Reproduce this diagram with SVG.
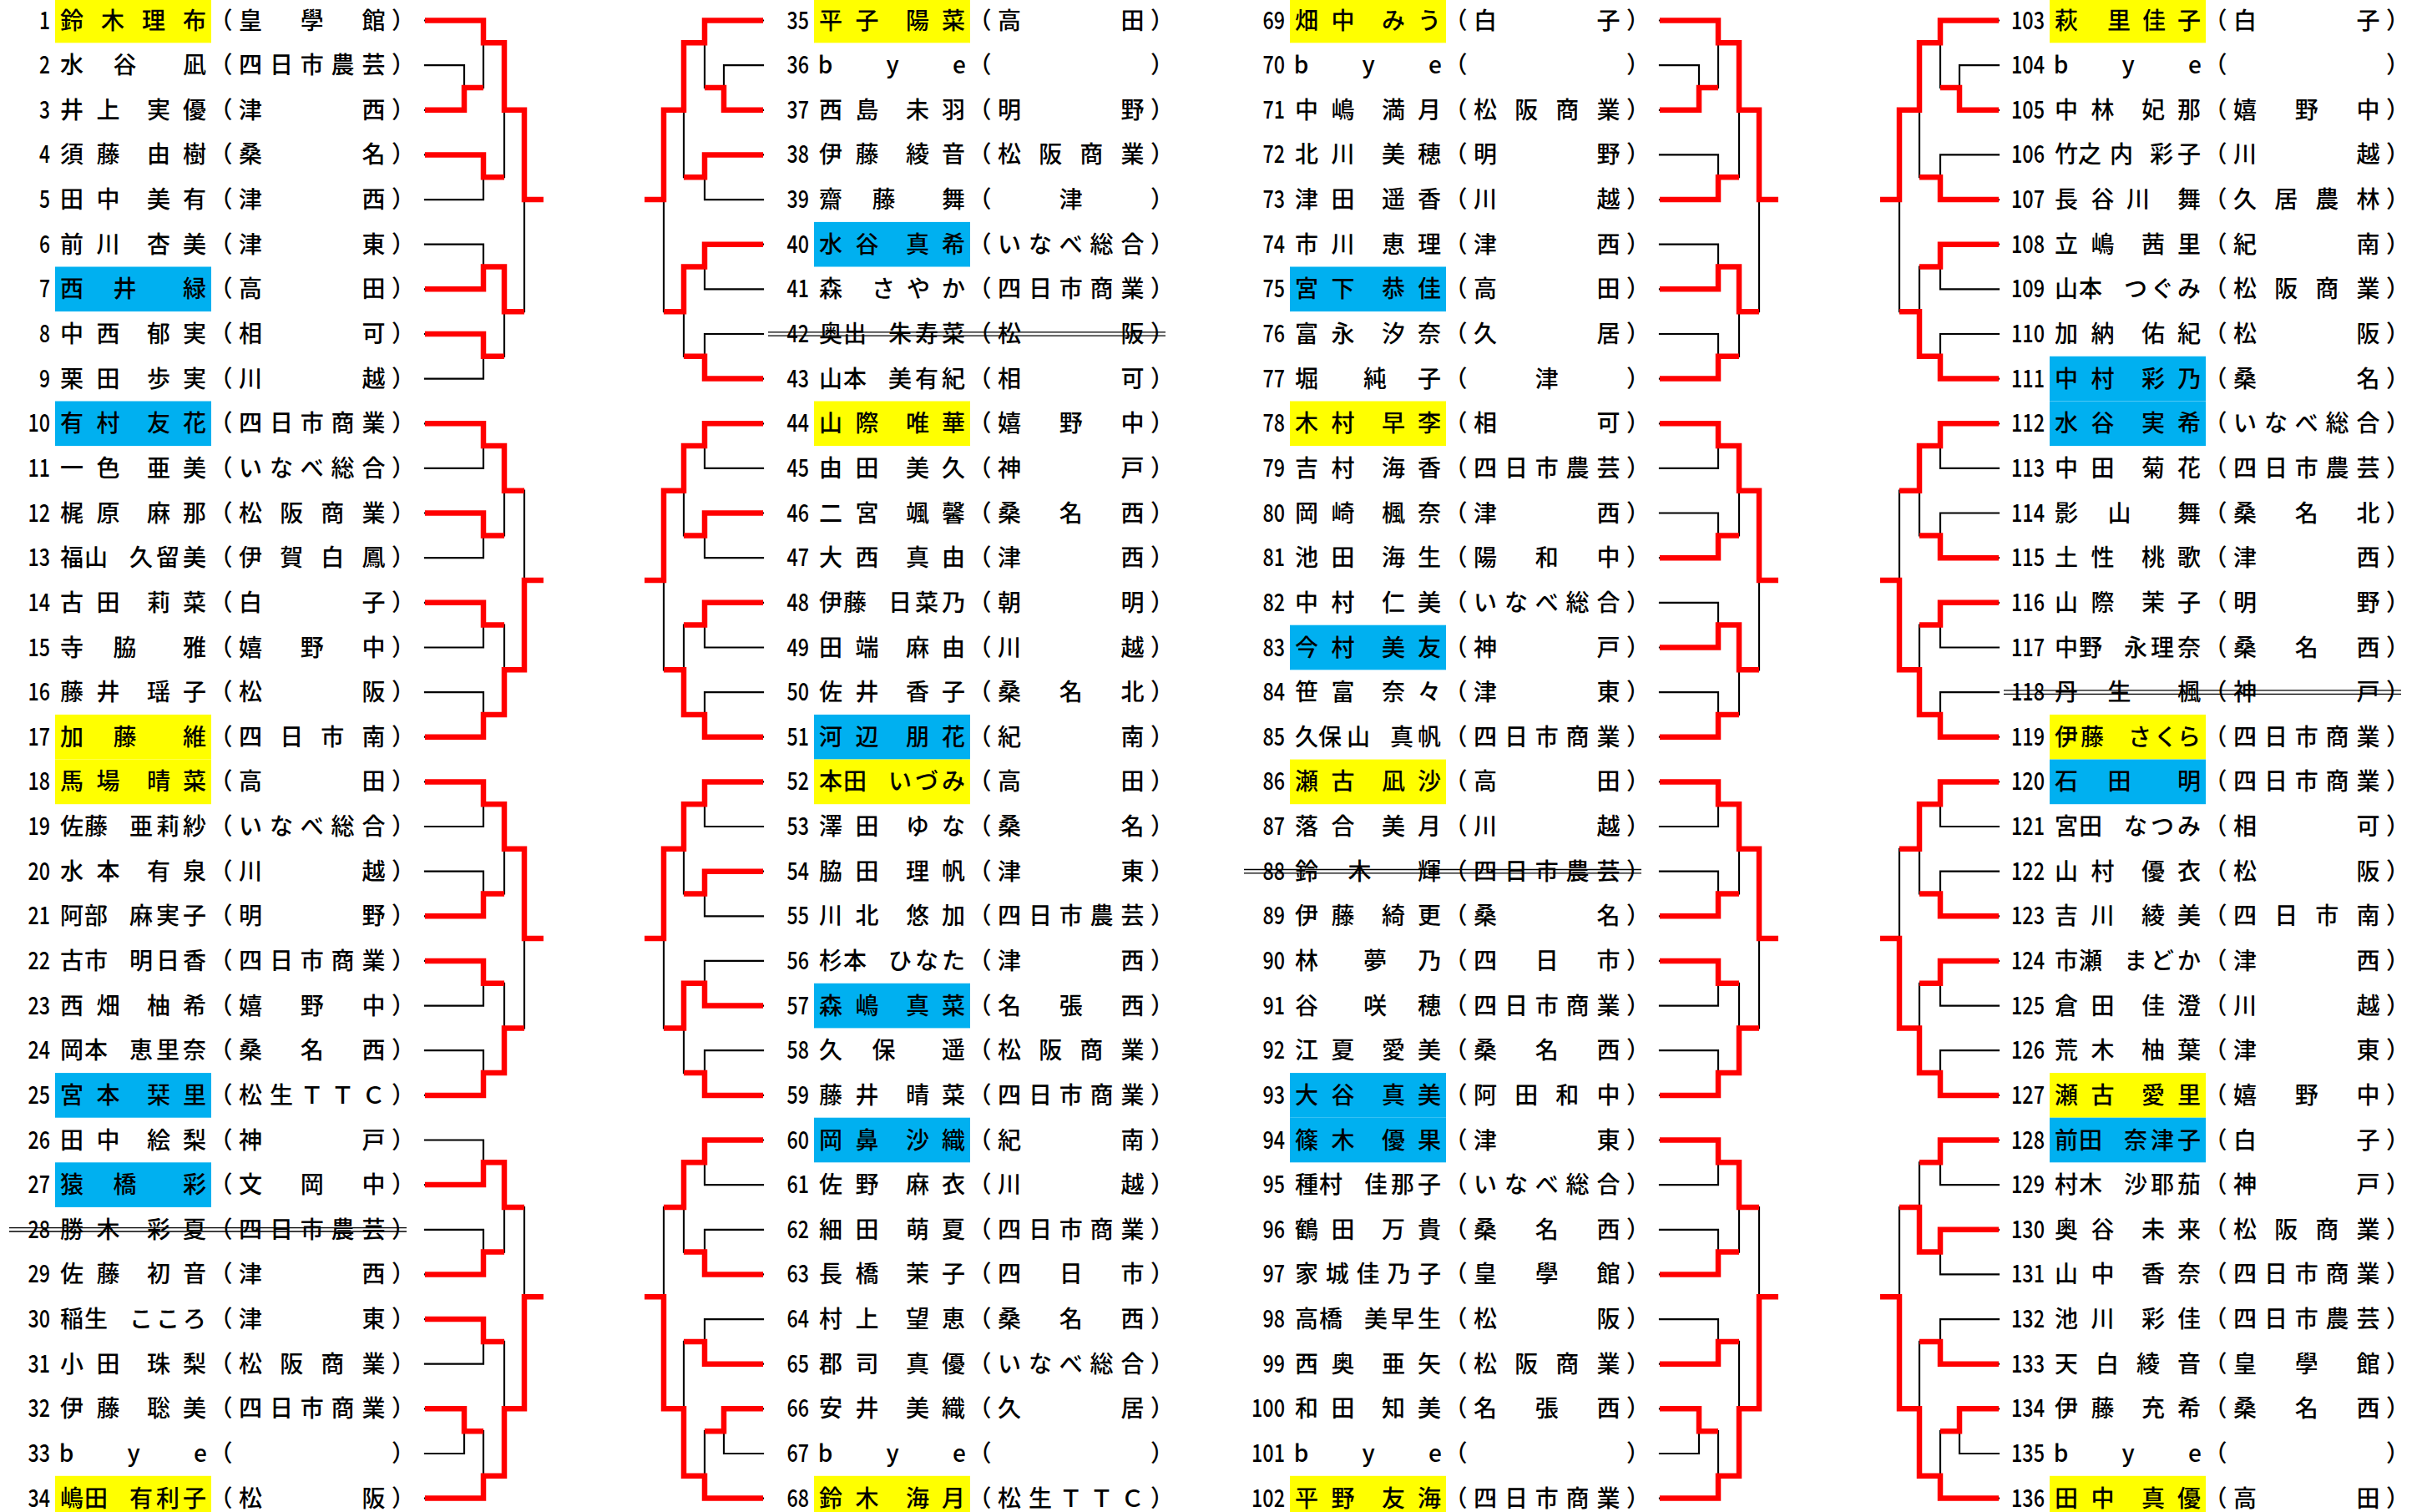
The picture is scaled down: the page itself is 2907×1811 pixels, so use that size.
<svg xmlns="http://www.w3.org/2000/svg" width="2907" height="1811" viewBox="0 0 2907 1811" font-family="'Noto Sans CJK JP','Noto Sans CJK SC',sans-serif">
<style>
.num{font-size:29px;font-weight:500;text-anchor:end;fill:#000}
.nm,.af{font-size:28px;font-weight:500;text-anchor:middle;fill:#000}
.hy{fill:#ffff00}
.hb{fill:#00b0f0}
.st{stroke:#000;stroke-width:1.3;fill:none}
.k{fill:none;stroke:#000;stroke-width:2.2;stroke-linecap:square}
.r{fill:none;stroke:#ff0000;stroke-width:6.5;stroke-linejoin:miter}
</style>
<defs>
<path id="sk" class="k" d="M509 24.5H579M509 78.1H556M509 131.8H556M509 185.4H579M509 239.1H579M509 292.7H579M509 346.3H579M509 400H579M509 453.6H579M509 507.3H579M509 560.9H579M509 614.5H579M509 668.2H579M509 721.8H579M509 775.5H579M509 829.1H579M509 882.7H579M509 936.4H579M509 990H579M509 1043.7H579M509 1097.3H579M509 1150.9H579M509 1204.6H579M509 1258.2H579M509 1311.9H579M509 1365.5H579M509 1419.1H579M509 1472.8H579M509 1526.4H579M509 1580.1H579M509 1633.7H579M509 1687.3H556M509 1741H556M509 1794.6H579M556 78.1V131.8M556 1687.3V1741M579 24.5V105M579 185.4V239.1M579 292.7V346.3M579 400V453.6M579 507.3V560.9M579 614.5V668.2M579 721.8V775.5M579 829.1V882.7M579 936.4V990M579 1043.7V1097.3M579 1150.9V1204.6M579 1258.2V1311.9M579 1365.5V1419.1M579 1472.8V1526.4M579 1580.1V1633.7M579 1714.2V1794.6M604 51.3V212.2M604 319.5V426.8M604 534.1V641.4M604 748.6V855.9M604 963.2V1070.5M604 1177.8V1285M604 1392.3V1499.6M604 1606.9V1767.8M628 131.8V373.2M628 587.7V802.3M628 1016.8V1231.4M628 1446V1687.3"/>
</defs>
<rect width="2907" height="1811" fill="#fff"/>
<g id="connectors">
<g id="c1"><use href="#sk"/><path class="r" d="M509 24.5H579V51.3H604V131.8H628V239.1H651M509 131.8H556V105H579M509 185.4H579V212.2H604M509 346.3H579V319.5H604V373.2H628M509 400H579V426.8H604M509 507.3H579V534.1H604V587.7H628M509 614.5H579V641.4H604M509 721.8H579V748.6H604M509 882.7H579V855.9H604V802.3H628V695H651M509 936.4H579V963.2H604V1016.8H628V1124.1H651M509 1097.3H579V1070.5H604M509 1150.9H579V1177.8H604M509 1311.9H579V1285H604V1231.4H628M509 1419.1H579V1392.3H604V1446H628M509 1526.4H579V1499.6H604M509 1580.1H579V1606.9H604M509 1687.3H556V1714.2H579M509 1794.6H579V1767.8H604V1687.3H628V1553.2H651"/></g>
<g id="c2" transform="matrix(-1 0 0 1 1423 0)"><use href="#sk"/><path class="r" d="M509 24.5H579V51.3H604V131.8H628V239.1H651M509 131.8H556V105H579M509 185.4H579V212.2H604M509 292.7H579V319.5H604V373.2H628M509 453.6H579V426.8H604M509 507.3H579V534.1H604V587.7H628V695H651M509 614.5H579V641.4H604M509 721.8H579V748.6H604M509 882.7H579V855.9H604V802.3H628M509 936.4H579V963.2H604V1016.8H628V1124.1H651M509 1043.7H579V1070.5H604M509 1204.6H579V1177.8H604V1231.4H628M509 1311.9H579V1285H604M509 1365.5H579V1392.3H604V1446H628M509 1526.4H579V1499.6H604M509 1633.7H579V1606.9H604M509 1687.3H556V1714.2H579M509 1794.6H579V1767.8H604V1687.3H628V1553.2H651"/></g>
<g id="c3" transform="translate(1479 0)"><use href="#sk"/><path class="r" d="M509 24.5H579V51.3H604V131.8H628V239.1H651M509 131.8H556V105H579M509 239.1H579V212.2H604M509 346.3H579V319.5H604V373.2H628M509 453.6H579V426.8H604M509 507.3H579V534.1H604V587.7H628V695H651M509 668.2H579V641.4H604M509 775.5H579V748.6H604V802.3H628M509 882.7H579V855.9H604M509 936.4H579V963.2H604V1016.8H628V1124.1H651M509 1097.3H579V1070.5H604M509 1150.9H579V1177.8H604M509 1311.9H579V1285H604V1231.4H628M509 1365.5H579V1392.3H604V1446H628M509 1526.4H579V1499.6H604M509 1633.7H579V1606.9H604M509 1687.3H556V1714.2H579M509 1794.6H579V1767.8H604V1687.3H628V1553.2H651"/></g>
<g id="c4" transform="matrix(-1 0 0 1 2903 0)"><use href="#sk"/><path class="r" d="M509 24.5H579V51.3H604V131.8H628V239.1H651M509 131.8H556V105H579M509 239.1H579V212.2H604M509 292.7H579V319.5H604M509 453.6H579V426.8H604V373.2H628M509 507.3H579V534.1H604V587.7H628M509 668.2H579V641.4H604M509 721.8H579V748.6H604M509 882.7H579V855.9H604V802.3H628V695H651M509 936.4H579V963.2H604V1016.8H628M509 1097.3H579V1070.5H604M509 1150.9H579V1177.8H604M509 1311.9H579V1285H604V1231.4H628V1124.1H651M509 1365.5H579V1392.3H604M509 1472.8H579V1499.6H604V1446H628M509 1633.7H579V1606.9H604M509 1687.3H556V1714.2H579M509 1794.6H579V1767.8H604V1687.3H628V1553.2H651"/></g>
</g>
<g id="col1">
<g id="p1" transform="translate(0 24.5)"><rect class="hy" x="66" y="-26.8" width="187" height="53.6"/><text class="num" x="60" y="10" textLength="13" lengthAdjust="spacingAndGlyphs">1</text><text class="nm" x="86 135 184 233" y="10">鈴木理布</text><text class="af" x="264.5 300 373.8 447.5 483" y="10">（皇學館）</text></g>
<g id="p2" transform="translate(0 78.1)"><text class="num" x="60" y="10" textLength="13" lengthAdjust="spacingAndGlyphs">2</text><text class="nm" x="86 149.5 233" y="10">水谷凪</text><text class="af" x="264.5 300 336.9 373.8 410.6 447.5 483" y="10">（四日市農芸）</text></g>
<g id="p3" transform="translate(0 131.8)"><text class="num" x="60" y="10" textLength="13" lengthAdjust="spacingAndGlyphs">3</text><text class="nm" x="86 129.5 190 233" y="10">井上実優</text><text class="af" x="264.5 300 447.5 483" y="10">（津西）</text></g>
<g id="p4" transform="translate(0 185.4)"><text class="num" x="60" y="10" textLength="13" lengthAdjust="spacingAndGlyphs">4</text><text class="nm" x="86 129.5 190 233" y="10">須藤由樹</text><text class="af" x="264.5 300 447.5 483" y="10">（桑名）</text></g>
<g id="p5" transform="translate(0 239.1)"><text class="num" x="60" y="10" textLength="13" lengthAdjust="spacingAndGlyphs">5</text><text class="nm" x="86 129.5 190 233" y="10">田中美有</text><text class="af" x="264.5 300 447.5 483" y="10">（津西）</text></g>
<g id="p6" transform="translate(0 292.7)"><text class="num" x="60" y="10" textLength="13" lengthAdjust="spacingAndGlyphs">6</text><text class="nm" x="86 129.5 190 233" y="10">前川杏美</text><text class="af" x="264.5 300 447.5 483" y="10">（津東）</text></g>
<g id="p7" transform="translate(0 346.3)"><rect class="hb" x="66" y="-26.8" width="187" height="53.6"/><text class="num" x="60" y="10" textLength="13" lengthAdjust="spacingAndGlyphs">7</text><text class="nm" x="86 149.5 233" y="10">西井緑</text><text class="af" x="264.5 300 447.5 483" y="10">（高田）</text></g>
<g id="p8" transform="translate(0 400)"><text class="num" x="60" y="10" textLength="13" lengthAdjust="spacingAndGlyphs">8</text><text class="nm" x="86 129.5 190 233" y="10">中西郁実</text><text class="af" x="264.5 300 447.5 483" y="10">（相可）</text></g>
<g id="p9" transform="translate(0 453.6)"><text class="num" x="60" y="10" textLength="13" lengthAdjust="spacingAndGlyphs">9</text><text class="nm" x="86 129.5 190 233" y="10">栗田歩実</text><text class="af" x="264.5 300 447.5 483" y="10">（川越）</text></g>
<g id="p10" transform="translate(0 507.3)"><rect class="hb" x="66" y="-26.8" width="187" height="53.6"/><text class="num" x="60" y="10" textLength="26.5" lengthAdjust="spacingAndGlyphs">10</text><text class="nm" x="86 129.5 190 233" y="10">有村友花</text><text class="af" x="264.5 300 336.9 373.8 410.6 447.5 483" y="10">（四日市商業）</text></g>
<g id="p11" transform="translate(0 560.9)"><text class="num" x="60" y="10" textLength="26.5" lengthAdjust="spacingAndGlyphs">11</text><text class="nm" x="86 129.5 190 233" y="10">一色亜美</text><text class="af" x="264.5 300 336.9 373.8 410.6 447.5 483" y="10">（いなべ総合）</text></g>
<g id="p12" transform="translate(0 614.5)"><text class="num" x="60" y="10" textLength="26.5" lengthAdjust="spacingAndGlyphs">12</text><text class="nm" x="86 129.5 190 233" y="10">梶原麻那</text><text class="af" x="264.5 300 349.2 398.3 447.5 483" y="10">（松阪商業）</text></g>
<g id="p13" transform="translate(0 668.2)"><text class="num" x="60" y="10" textLength="26.5" lengthAdjust="spacingAndGlyphs">13</text><text class="nm" x="86 115 169 201 233" y="10">福山久留美</text><text class="af" x="264.5 300 349.2 398.3 447.5 483" y="10">（伊賀白鳳）</text></g>
<g id="p14" transform="translate(0 721.8)"><text class="num" x="60" y="10" textLength="26.5" lengthAdjust="spacingAndGlyphs">14</text><text class="nm" x="86 129.5 190 233" y="10">古田莉菜</text><text class="af" x="264.5 300 447.5 483" y="10">（白子）</text></g>
<g id="p15" transform="translate(0 775.5)"><text class="num" x="60" y="10" textLength="26.5" lengthAdjust="spacingAndGlyphs">15</text><text class="nm" x="86 149.5 233" y="10">寺脇雅</text><text class="af" x="264.5 300 373.8 447.5 483" y="10">（嬉野中）</text></g>
<g id="p16" transform="translate(0 829.1)"><text class="num" x="60" y="10" textLength="26.5" lengthAdjust="spacingAndGlyphs">16</text><text class="nm" x="86 129.5 190 233" y="10">藤井瑶子</text><text class="af" x="264.5 300 447.5 483" y="10">（松阪）</text></g>
<g id="p17" transform="translate(0 882.7)"><rect class="hy" x="66" y="-26.8" width="187" height="53.6"/><text class="num" x="60" y="10" textLength="26.5" lengthAdjust="spacingAndGlyphs">17</text><text class="nm" x="86 149.5 233" y="10">加藤維</text><text class="af" x="264.5 300 349.2 398.3 447.5 483" y="10">（四日市南）</text></g>
<g id="p18" transform="translate(0 936.4)"><rect class="hy" x="66" y="-26.8" width="187" height="53.6"/><text class="num" x="60" y="10" textLength="26.5" lengthAdjust="spacingAndGlyphs">18</text><text class="nm" x="86 129.5 190 233" y="10">馬場晴菜</text><text class="af" x="264.5 300 447.5 483" y="10">（高田）</text></g>
<g id="p19" transform="translate(0 990)"><text class="num" x="60" y="10" textLength="26.5" lengthAdjust="spacingAndGlyphs">19</text><text class="nm" x="86 115 169 201 233" y="10">佐藤亜莉紗</text><text class="af" x="264.5 300 336.9 373.8 410.6 447.5 483" y="10">（いなべ総合）</text></g>
<g id="p20" transform="translate(0 1043.7)"><text class="num" x="60" y="10" textLength="26.5" lengthAdjust="spacingAndGlyphs">20</text><text class="nm" x="86 129.5 190 233" y="10">水本有泉</text><text class="af" x="264.5 300 447.5 483" y="10">（川越）</text></g>
<g id="p21" transform="translate(0 1097.3)"><text class="num" x="60" y="10" textLength="26.5" lengthAdjust="spacingAndGlyphs">21</text><text class="nm" x="86 115 169 201 233" y="10">阿部麻実子</text><text class="af" x="264.5 300 447.5 483" y="10">（明野）</text></g>
<g id="p22" transform="translate(0 1150.9)"><text class="num" x="60" y="10" textLength="26.5" lengthAdjust="spacingAndGlyphs">22</text><text class="nm" x="86 115 169 201 233" y="10">古市明日香</text><text class="af" x="264.5 300 336.9 373.8 410.6 447.5 483" y="10">（四日市商業）</text></g>
<g id="p23" transform="translate(0 1204.6)"><text class="num" x="60" y="10" textLength="26.5" lengthAdjust="spacingAndGlyphs">23</text><text class="nm" x="86 129.5 190 233" y="10">西畑柚希</text><text class="af" x="264.5 300 373.8 447.5 483" y="10">（嬉野中）</text></g>
<g id="p24" transform="translate(0 1258.2)"><text class="num" x="60" y="10" textLength="26.5" lengthAdjust="spacingAndGlyphs">24</text><text class="nm" x="86 115 169 201 233" y="10">岡本恵里奈</text><text class="af" x="264.5 300 373.8 447.5 483" y="10">（桑名西）</text></g>
<g id="p25" transform="translate(0 1311.9)"><rect class="hb" x="66" y="-26.8" width="187" height="53.6"/><text class="num" x="60" y="10" textLength="26.5" lengthAdjust="spacingAndGlyphs">25</text><text class="nm" x="86 129.5 190 233" y="10">宮本栞里</text><text class="af" x="264.5 300 336.9 373.8 410.6 447.5 483" y="10">（松生ＴＴＣ）</text></g>
<g id="p26" transform="translate(0 1365.5)"><text class="num" x="60" y="10" textLength="26.5" lengthAdjust="spacingAndGlyphs">26</text><text class="nm" x="86 129.5 190 233" y="10">田中絵梨</text><text class="af" x="264.5 300 447.5 483" y="10">（神戸）</text></g>
<g id="p27" transform="translate(0 1419.1)"><rect class="hb" x="66" y="-26.8" width="187" height="53.6"/><text class="num" x="60" y="10" textLength="26.5" lengthAdjust="spacingAndGlyphs">27</text><text class="nm" x="86 149.5 233" y="10">猿橋彩</text><text class="af" x="264.5 300 373.8 447.5 483" y="10">（文岡中）</text></g>
<g id="p28" transform="translate(0 1472.8)"><text class="num" x="60" y="10" textLength="26.5" lengthAdjust="spacingAndGlyphs">28</text><text class="nm" x="86 129.5 190 233" y="10">勝木彩夏</text><text class="af" x="264.5 300 336.9 373.8 410.6 447.5 483" y="10">（四日市農芸）</text><path class="st" d="M11 -2.2H487M11 2.2H487"/></g>
<g id="p29" transform="translate(0 1526.4)"><text class="num" x="60" y="10" textLength="26.5" lengthAdjust="spacingAndGlyphs">29</text><text class="nm" x="86 129.5 190 233" y="10">佐藤初音</text><text class="af" x="264.5 300 447.5 483" y="10">（津西）</text></g>
<g id="p30" transform="translate(0 1580.1)"><text class="num" x="60" y="10" textLength="26.5" lengthAdjust="spacingAndGlyphs">30</text><text class="nm" x="86 115 169 201 233" y="10">稲生こころ</text><text class="af" x="264.5 300 447.5 483" y="10">（津東）</text></g>
<g id="p31" transform="translate(0 1633.7)"><text class="num" x="60" y="10" textLength="26.5" lengthAdjust="spacingAndGlyphs">31</text><text class="nm" x="86 129.5 190 233" y="10">小田珠梨</text><text class="af" x="264.5 300 349.2 398.3 447.5 483" y="10">（松阪商業）</text></g>
<g id="p32" transform="translate(0 1687.3)"><text class="num" x="60" y="10" textLength="26.5" lengthAdjust="spacingAndGlyphs">32</text><text class="nm" x="86 129.5 190 233" y="10">伊藤聡美</text><text class="af" x="264.5 300 336.9 373.8 410.6 447.5 483" y="10">（四日市商業）</text></g>
<g id="p33" transform="translate(0 1741)"><text class="num" x="60" y="10" textLength="26.5" lengthAdjust="spacingAndGlyphs">33</text><text class="nm" x="79.5 160 240" y="10">bye</text><text class="af" x="264.5 483" y="10">（）</text></g>
<g id="p34" transform="translate(0 1794.6)"><rect class="hy" x="66" y="-26.8" width="187" height="53.6"/><text class="num" x="60" y="10" textLength="26.5" lengthAdjust="spacingAndGlyphs">34</text><text class="nm" x="86 115 169 201 233" y="10">嶋田有利子</text><text class="af" x="264.5 300 447.5 483" y="10">（松阪）</text></g>
</g>
<g id="col2" transform="translate(909 0)">
<g id="p35" transform="translate(0 24.5)"><rect class="hy" x="66" y="-26.8" width="187" height="53.6"/><text class="num" x="60" y="10" textLength="26.5" lengthAdjust="spacingAndGlyphs">35</text><text class="nm" x="86 129.5 190 233" y="10">平子陽菜</text><text class="af" x="264.5 300 447.5 483" y="10">（高田）</text></g>
<g id="p36" transform="translate(0 78.1)"><text class="num" x="60" y="10" textLength="26.5" lengthAdjust="spacingAndGlyphs">36</text><text class="nm" x="79.5 160 240" y="10">bye</text><text class="af" x="264.5 483" y="10">（）</text></g>
<g id="p37" transform="translate(0 131.8)"><text class="num" x="60" y="10" textLength="26.5" lengthAdjust="spacingAndGlyphs">37</text><text class="nm" x="86 129.5 190 233" y="10">西島未羽</text><text class="af" x="264.5 300 447.5 483" y="10">（明野）</text></g>
<g id="p38" transform="translate(0 185.4)"><text class="num" x="60" y="10" textLength="26.5" lengthAdjust="spacingAndGlyphs">38</text><text class="nm" x="86 129.5 190 233" y="10">伊藤綾音</text><text class="af" x="264.5 300 349.2 398.3 447.5 483" y="10">（松阪商業）</text></g>
<g id="p39" transform="translate(0 239.1)"><text class="num" x="60" y="10" textLength="26.5" lengthAdjust="spacingAndGlyphs">39</text><text class="nm" x="86 149.5 233" y="10">齋藤舞</text><text class="af" x="264.5 373.8 483" y="10">（津）</text></g>
<g id="p40" transform="translate(0 292.7)"><rect class="hb" x="66" y="-26.8" width="187" height="53.6"/><text class="num" x="60" y="10" textLength="26.5" lengthAdjust="spacingAndGlyphs">40</text><text class="nm" x="86 129.5 190 233" y="10">水谷真希</text><text class="af" x="264.5 300 336.9 373.8 410.6 447.5 483" y="10">（いなべ総合）</text></g>
<g id="p41" transform="translate(0 346.3)"><text class="num" x="60" y="10" textLength="26.5" lengthAdjust="spacingAndGlyphs">41</text><text class="nm" x="86 149 191 233" y="10">森さやか</text><text class="af" x="264.5 300 336.9 373.8 410.6 447.5 483" y="10">（四日市商業）</text></g>
<g id="p42" transform="translate(0 400)"><text class="num" x="60" y="10" textLength="26.5" lengthAdjust="spacingAndGlyphs">42</text><text class="nm" x="86 115 169 201 233" y="10">奥出朱寿菜</text><text class="af" x="264.5 300 447.5 483" y="10">（松阪）</text><path class="st" d="M11 -2.2H487M11 2.2H487"/></g>
<g id="p43" transform="translate(0 453.6)"><text class="num" x="60" y="10" textLength="26.5" lengthAdjust="spacingAndGlyphs">43</text><text class="nm" x="86 115 169 201 233" y="10">山本美有紀</text><text class="af" x="264.5 300 447.5 483" y="10">（相可）</text></g>
<g id="p44" transform="translate(0 507.3)"><rect class="hy" x="66" y="-26.8" width="187" height="53.6"/><text class="num" x="60" y="10" textLength="26.5" lengthAdjust="spacingAndGlyphs">44</text><text class="nm" x="86 129.5 190 233" y="10">山際唯華</text><text class="af" x="264.5 300 373.8 447.5 483" y="10">（嬉野中）</text></g>
<g id="p45" transform="translate(0 560.9)"><text class="num" x="60" y="10" textLength="26.5" lengthAdjust="spacingAndGlyphs">45</text><text class="nm" x="86 129.5 190 233" y="10">由田美久</text><text class="af" x="264.5 300 447.5 483" y="10">（神戸）</text></g>
<g id="p46" transform="translate(0 614.5)"><text class="num" x="60" y="10" textLength="26.5" lengthAdjust="spacingAndGlyphs">46</text><text class="nm" x="86 129.5 190 233" y="10">二宮颯馨</text><text class="af" x="264.5 300 373.8 447.5 483" y="10">（桑名西）</text></g>
<g id="p47" transform="translate(0 668.2)"><text class="num" x="60" y="10" textLength="26.5" lengthAdjust="spacingAndGlyphs">47</text><text class="nm" x="86 129.5 190 233" y="10">大西真由</text><text class="af" x="264.5 300 447.5 483" y="10">（津西）</text></g>
<g id="p48" transform="translate(0 721.8)"><text class="num" x="60" y="10" textLength="26.5" lengthAdjust="spacingAndGlyphs">48</text><text class="nm" x="86 115 169 201 233" y="10">伊藤日菜乃</text><text class="af" x="264.5 300 447.5 483" y="10">（朝明）</text></g>
<g id="p49" transform="translate(0 775.5)"><text class="num" x="60" y="10" textLength="26.5" lengthAdjust="spacingAndGlyphs">49</text><text class="nm" x="86 129.5 190 233" y="10">田端麻由</text><text class="af" x="264.5 300 447.5 483" y="10">（川越）</text></g>
<g id="p50" transform="translate(0 829.1)"><text class="num" x="60" y="10" textLength="26.5" lengthAdjust="spacingAndGlyphs">50</text><text class="nm" x="86 129.5 190 233" y="10">佐井香子</text><text class="af" x="264.5 300 373.8 447.5 483" y="10">（桑名北）</text></g>
<g id="p51" transform="translate(0 882.7)"><rect class="hb" x="66" y="-26.8" width="187" height="53.6"/><text class="num" x="60" y="10" textLength="26.5" lengthAdjust="spacingAndGlyphs">51</text><text class="nm" x="86 129.5 190 233" y="10">河辺朋花</text><text class="af" x="264.5 300 447.5 483" y="10">（紀南）</text></g>
<g id="p52" transform="translate(0 936.4)"><rect class="hy" x="66" y="-26.8" width="187" height="53.6"/><text class="num" x="60" y="10" textLength="26.5" lengthAdjust="spacingAndGlyphs">52</text><text class="nm" x="86 115 169 201 233" y="10">本田いづみ</text><text class="af" x="264.5 300 447.5 483" y="10">（高田）</text></g>
<g id="p53" transform="translate(0 990)"><text class="num" x="60" y="10" textLength="26.5" lengthAdjust="spacingAndGlyphs">53</text><text class="nm" x="86 129.5 190 233" y="10">澤田ゆな</text><text class="af" x="264.5 300 447.5 483" y="10">（桑名）</text></g>
<g id="p54" transform="translate(0 1043.7)"><text class="num" x="60" y="10" textLength="26.5" lengthAdjust="spacingAndGlyphs">54</text><text class="nm" x="86 129.5 190 233" y="10">脇田理帆</text><text class="af" x="264.5 300 447.5 483" y="10">（津東）</text></g>
<g id="p55" transform="translate(0 1097.3)"><text class="num" x="60" y="10" textLength="26.5" lengthAdjust="spacingAndGlyphs">55</text><text class="nm" x="86 129.5 190 233" y="10">川北悠加</text><text class="af" x="264.5 300 336.9 373.8 410.6 447.5 483" y="10">（四日市農芸）</text></g>
<g id="p56" transform="translate(0 1150.9)"><text class="num" x="60" y="10" textLength="26.5" lengthAdjust="spacingAndGlyphs">56</text><text class="nm" x="86 115 169 201 233" y="10">杉本ひなた</text><text class="af" x="264.5 300 447.5 483" y="10">（津西）</text></g>
<g id="p57" transform="translate(0 1204.6)"><rect class="hb" x="66" y="-26.8" width="187" height="53.6"/><text class="num" x="60" y="10" textLength="26.5" lengthAdjust="spacingAndGlyphs">57</text><text class="nm" x="86 129.5 190 233" y="10">森嶋真菜</text><text class="af" x="264.5 300 373.8 447.5 483" y="10">（名張西）</text></g>
<g id="p58" transform="translate(0 1258.2)"><text class="num" x="60" y="10" textLength="26.5" lengthAdjust="spacingAndGlyphs">58</text><text class="nm" x="86 149.5 233" y="10">久保遥</text><text class="af" x="264.5 300 349.2 398.3 447.5 483" y="10">（松阪商業）</text></g>
<g id="p59" transform="translate(0 1311.9)"><text class="num" x="60" y="10" textLength="26.5" lengthAdjust="spacingAndGlyphs">59</text><text class="nm" x="86 129.5 190 233" y="10">藤井晴菜</text><text class="af" x="264.5 300 336.9 373.8 410.6 447.5 483" y="10">（四日市商業）</text></g>
<g id="p60" transform="translate(0 1365.5)"><rect class="hb" x="66" y="-26.8" width="187" height="53.6"/><text class="num" x="60" y="10" textLength="26.5" lengthAdjust="spacingAndGlyphs">60</text><text class="nm" x="86 129.5 190 233" y="10">岡鼻沙織</text><text class="af" x="264.5 300 447.5 483" y="10">（紀南）</text></g>
<g id="p61" transform="translate(0 1419.1)"><text class="num" x="60" y="10" textLength="26.5" lengthAdjust="spacingAndGlyphs">61</text><text class="nm" x="86 129.5 190 233" y="10">佐野麻衣</text><text class="af" x="264.5 300 447.5 483" y="10">（川越）</text></g>
<g id="p62" transform="translate(0 1472.8)"><text class="num" x="60" y="10" textLength="26.5" lengthAdjust="spacingAndGlyphs">62</text><text class="nm" x="86 129.5 190 233" y="10">細田萌夏</text><text class="af" x="264.5 300 336.9 373.8 410.6 447.5 483" y="10">（四日市商業）</text></g>
<g id="p63" transform="translate(0 1526.4)"><text class="num" x="60" y="10" textLength="26.5" lengthAdjust="spacingAndGlyphs">63</text><text class="nm" x="86 129.5 190 233" y="10">長橋茉子</text><text class="af" x="264.5 300 373.8 447.5 483" y="10">（四日市）</text></g>
<g id="p64" transform="translate(0 1580.1)"><text class="num" x="60" y="10" textLength="26.5" lengthAdjust="spacingAndGlyphs">64</text><text class="nm" x="86 129.5 190 233" y="10">村上望恵</text><text class="af" x="264.5 300 373.8 447.5 483" y="10">（桑名西）</text></g>
<g id="p65" transform="translate(0 1633.7)"><text class="num" x="60" y="10" textLength="26.5" lengthAdjust="spacingAndGlyphs">65</text><text class="nm" x="86 129.5 190 233" y="10">郡司真優</text><text class="af" x="264.5 300 336.9 373.8 410.6 447.5 483" y="10">（いなべ総合）</text></g>
<g id="p66" transform="translate(0 1687.3)"><text class="num" x="60" y="10" textLength="26.5" lengthAdjust="spacingAndGlyphs">66</text><text class="nm" x="86 129.5 190 233" y="10">安井美織</text><text class="af" x="264.5 300 447.5 483" y="10">（久居）</text></g>
<g id="p67" transform="translate(0 1741)"><text class="num" x="60" y="10" textLength="26.5" lengthAdjust="spacingAndGlyphs">67</text><text class="nm" x="79.5 160 240" y="10">bye</text><text class="af" x="264.5 483" y="10">（）</text></g>
<g id="p68" transform="translate(0 1794.6)"><rect class="hy" x="66" y="-26.8" width="187" height="53.6"/><text class="num" x="60" y="10" textLength="26.5" lengthAdjust="spacingAndGlyphs">68</text><text class="nm" x="86 129.5 190 233" y="10">鈴木海月</text><text class="af" x="264.5 300 336.9 373.8 410.6 447.5 483" y="10">（松生ＴＴＣ）</text></g>
</g>
<g id="col3" transform="translate(1479 0)">
<g id="p69" transform="translate(0 24.5)"><rect class="hy" x="66" y="-26.8" width="187" height="53.6"/><text class="num" x="60" y="10" textLength="26.5" lengthAdjust="spacingAndGlyphs">69</text><text class="nm" x="86 129.5 190 233" y="10">畑中みう</text><text class="af" x="264.5 300 447.5 483" y="10">（白子）</text></g>
<g id="p70" transform="translate(0 78.1)"><text class="num" x="60" y="10" textLength="26.5" lengthAdjust="spacingAndGlyphs">70</text><text class="nm" x="79.5 160 240" y="10">bye</text><text class="af" x="264.5 483" y="10">（）</text></g>
<g id="p71" transform="translate(0 131.8)"><text class="num" x="60" y="10" textLength="26.5" lengthAdjust="spacingAndGlyphs">71</text><text class="nm" x="86 129.5 190 233" y="10">中嶋満月</text><text class="af" x="264.5 300 349.2 398.3 447.5 483" y="10">（松阪商業）</text></g>
<g id="p72" transform="translate(0 185.4)"><text class="num" x="60" y="10" textLength="26.5" lengthAdjust="spacingAndGlyphs">72</text><text class="nm" x="86 129.5 190 233" y="10">北川美穂</text><text class="af" x="264.5 300 447.5 483" y="10">（明野）</text></g>
<g id="p73" transform="translate(0 239.1)"><text class="num" x="60" y="10" textLength="26.5" lengthAdjust="spacingAndGlyphs">73</text><text class="nm" x="86 129.5 190 233" y="10">津田遥香</text><text class="af" x="264.5 300 447.5 483" y="10">（川越）</text></g>
<g id="p74" transform="translate(0 292.7)"><text class="num" x="60" y="10" textLength="26.5" lengthAdjust="spacingAndGlyphs">74</text><text class="nm" x="86 129.5 190 233" y="10">市川恵理</text><text class="af" x="264.5 300 447.5 483" y="10">（津西）</text></g>
<g id="p75" transform="translate(0 346.3)"><rect class="hb" x="66" y="-26.8" width="187" height="53.6"/><text class="num" x="60" y="10" textLength="26.5" lengthAdjust="spacingAndGlyphs">75</text><text class="nm" x="86 129.5 190 233" y="10">宮下恭佳</text><text class="af" x="264.5 300 447.5 483" y="10">（高田）</text></g>
<g id="p76" transform="translate(0 400)"><text class="num" x="60" y="10" textLength="26.5" lengthAdjust="spacingAndGlyphs">76</text><text class="nm" x="86 129.5 190 233" y="10">富永汐奈</text><text class="af" x="264.5 300 447.5 483" y="10">（久居）</text></g>
<g id="p77" transform="translate(0 453.6)"><text class="num" x="60" y="10" textLength="26.5" lengthAdjust="spacingAndGlyphs">77</text><text class="nm" x="86 168 233" y="10">堀純子</text><text class="af" x="264.5 373.8 483" y="10">（津）</text></g>
<g id="p78" transform="translate(0 507.3)"><rect class="hy" x="66" y="-26.8" width="187" height="53.6"/><text class="num" x="60" y="10" textLength="26.5" lengthAdjust="spacingAndGlyphs">78</text><text class="nm" x="86 129.5 190 233" y="10">木村早李</text><text class="af" x="264.5 300 447.5 483" y="10">（相可）</text></g>
<g id="p79" transform="translate(0 560.9)"><text class="num" x="60" y="10" textLength="26.5" lengthAdjust="spacingAndGlyphs">79</text><text class="nm" x="86 129.5 190 233" y="10">吉村海香</text><text class="af" x="264.5 300 336.9 373.8 410.6 447.5 483" y="10">（四日市農芸）</text></g>
<g id="p80" transform="translate(0 614.5)"><text class="num" x="60" y="10" textLength="26.5" lengthAdjust="spacingAndGlyphs">80</text><text class="nm" x="86 129.5 190 233" y="10">岡崎楓奈</text><text class="af" x="264.5 300 447.5 483" y="10">（津西）</text></g>
<g id="p81" transform="translate(0 668.2)"><text class="num" x="60" y="10" textLength="26.5" lengthAdjust="spacingAndGlyphs">81</text><text class="nm" x="86 129.5 190 233" y="10">池田海生</text><text class="af" x="264.5 300 373.8 447.5 483" y="10">（陽和中）</text></g>
<g id="p82" transform="translate(0 721.8)"><text class="num" x="60" y="10" textLength="26.5" lengthAdjust="spacingAndGlyphs">82</text><text class="nm" x="86 129.5 190 233" y="10">中村仁美</text><text class="af" x="264.5 300 336.9 373.8 410.6 447.5 483" y="10">（いなべ総合）</text></g>
<g id="p83" transform="translate(0 775.5)"><rect class="hb" x="66" y="-26.8" width="187" height="53.6"/><text class="num" x="60" y="10" textLength="26.5" lengthAdjust="spacingAndGlyphs">83</text><text class="nm" x="86 129.5 190 233" y="10">今村美友</text><text class="af" x="264.5 300 447.5 483" y="10">（神戸）</text></g>
<g id="p84" transform="translate(0 829.1)"><text class="num" x="60" y="10" textLength="26.5" lengthAdjust="spacingAndGlyphs">84</text><text class="nm" x="86 129.5 190 233" y="10">笹富奈々</text><text class="af" x="264.5 300 447.5 483" y="10">（津東）</text></g>
<g id="p85" transform="translate(0 882.7)"><text class="num" x="60" y="10" textLength="26.5" lengthAdjust="spacingAndGlyphs">85</text><text class="nm" x="86 114 148 200 233" y="10">久保山真帆</text><text class="af" x="264.5 300 336.9 373.8 410.6 447.5 483" y="10">（四日市商業）</text></g>
<g id="p86" transform="translate(0 936.4)"><rect class="hy" x="66" y="-26.8" width="187" height="53.6"/><text class="num" x="60" y="10" textLength="26.5" lengthAdjust="spacingAndGlyphs">86</text><text class="nm" x="86 129.5 190 233" y="10">瀬古凪沙</text><text class="af" x="264.5 300 447.5 483" y="10">（高田）</text></g>
<g id="p87" transform="translate(0 990)"><text class="num" x="60" y="10" textLength="26.5" lengthAdjust="spacingAndGlyphs">87</text><text class="nm" x="86 129.5 190 233" y="10">落合美月</text><text class="af" x="264.5 300 447.5 483" y="10">（川越）</text></g>
<g id="p88" transform="translate(0 1043.7)"><text class="num" x="60" y="10" textLength="26.5" lengthAdjust="spacingAndGlyphs">88</text><text class="nm" x="86 149.5 233" y="10">鈴木輝</text><text class="af" x="264.5 300 336.9 373.8 410.6 447.5 483" y="10">（四日市農芸）</text><path class="st" d="M11 -2.2H487M11 2.2H487"/></g>
<g id="p89" transform="translate(0 1097.3)"><text class="num" x="60" y="10" textLength="26.5" lengthAdjust="spacingAndGlyphs">89</text><text class="nm" x="86 129.5 190 233" y="10">伊藤綺更</text><text class="af" x="264.5 300 447.5 483" y="10">（桑名）</text></g>
<g id="p90" transform="translate(0 1150.9)"><text class="num" x="60" y="10" textLength="26.5" lengthAdjust="spacingAndGlyphs">90</text><text class="nm" x="86 168 233" y="10">林夢乃</text><text class="af" x="264.5 300 373.8 447.5 483" y="10">（四日市）</text></g>
<g id="p91" transform="translate(0 1204.6)"><text class="num" x="60" y="10" textLength="26.5" lengthAdjust="spacingAndGlyphs">91</text><text class="nm" x="86 168 233" y="10">谷咲穂</text><text class="af" x="264.5 300 336.9 373.8 410.6 447.5 483" y="10">（四日市商業）</text></g>
<g id="p92" transform="translate(0 1258.2)"><text class="num" x="60" y="10" textLength="26.5" lengthAdjust="spacingAndGlyphs">92</text><text class="nm" x="86 129.5 190 233" y="10">江夏愛美</text><text class="af" x="264.5 300 373.8 447.5 483" y="10">（桑名西）</text></g>
<g id="p93" transform="translate(0 1311.9)"><rect class="hb" x="66" y="-26.8" width="187" height="53.6"/><text class="num" x="60" y="10" textLength="26.5" lengthAdjust="spacingAndGlyphs">93</text><text class="nm" x="86 129.5 190 233" y="10">大谷真美</text><text class="af" x="264.5 300 349.2 398.3 447.5 483" y="10">（阿田和中）</text></g>
<g id="p94" transform="translate(0 1365.5)"><rect class="hb" x="66" y="-26.8" width="187" height="53.6"/><text class="num" x="60" y="10" textLength="26.5" lengthAdjust="spacingAndGlyphs">94</text><text class="nm" x="86 129.5 190 233" y="10">篠木優果</text><text class="af" x="264.5 300 447.5 483" y="10">（津東）</text></g>
<g id="p95" transform="translate(0 1419.1)"><text class="num" x="60" y="10" textLength="26.5" lengthAdjust="spacingAndGlyphs">95</text><text class="nm" x="86 115 169 201 233" y="10">種村佳那子</text><text class="af" x="264.5 300 336.9 373.8 410.6 447.5 483" y="10">（いなべ総合）</text></g>
<g id="p96" transform="translate(0 1472.8)"><text class="num" x="60" y="10" textLength="26.5" lengthAdjust="spacingAndGlyphs">96</text><text class="nm" x="86 129.5 190 233" y="10">鶴田万貴</text><text class="af" x="264.5 300 373.8 447.5 483" y="10">（桑名西）</text></g>
<g id="p97" transform="translate(0 1526.4)"><text class="num" x="60" y="10" textLength="26.5" lengthAdjust="spacingAndGlyphs">97</text><text class="nm" x="86 122.8 159.5 196.3 233" y="10">家城佳乃子</text><text class="af" x="264.5 300 373.8 447.5 483" y="10">（皇學館）</text></g>
<g id="p98" transform="translate(0 1580.1)"><text class="num" x="60" y="10" textLength="26.5" lengthAdjust="spacingAndGlyphs">98</text><text class="nm" x="86 115 169 201 233" y="10">高橋美早生</text><text class="af" x="264.5 300 447.5 483" y="10">（松阪）</text></g>
<g id="p99" transform="translate(0 1633.7)"><text class="num" x="60" y="10" textLength="26.5" lengthAdjust="spacingAndGlyphs">99</text><text class="nm" x="86 129.5 190 233" y="10">西奥亜矢</text><text class="af" x="264.5 300 349.2 398.3 447.5 483" y="10">（松阪商業）</text></g>
<g id="p100" transform="translate(0 1687.3)"><text class="num" x="60" y="10" textLength="40" lengthAdjust="spacingAndGlyphs">100</text><text class="nm" x="86 129.5 190 233" y="10">和田知美</text><text class="af" x="264.5 300 373.8 447.5 483" y="10">（名張西）</text></g>
<g id="p101" transform="translate(0 1741)"><text class="num" x="60" y="10" textLength="40" lengthAdjust="spacingAndGlyphs">101</text><text class="nm" x="79.5 160 240" y="10">bye</text><text class="af" x="264.5 483" y="10">（）</text></g>
<g id="p102" transform="translate(0 1794.6)"><rect class="hy" x="66" y="-26.8" width="187" height="53.6"/><text class="num" x="60" y="10" textLength="40" lengthAdjust="spacingAndGlyphs">102</text><text class="nm" x="86 129.5 190 233" y="10">平野友海</text><text class="af" x="264.5 300 336.9 373.8 410.6 447.5 483" y="10">（四日市商業）</text></g>
</g>
<g id="col4" transform="translate(2389 0)">
<g id="p103" transform="translate(0 24.5)"><rect class="hy" x="66" y="-26.8" width="187" height="53.6"/><text class="num" x="60" y="10" textLength="40" lengthAdjust="spacingAndGlyphs">103</text><text class="nm" x="86 149 191 233" y="10">萩里佳子</text><text class="af" x="264.5 300 447.5 483" y="10">（白子）</text></g>
<g id="p104" transform="translate(0 78.1)"><text class="num" x="60" y="10" textLength="40" lengthAdjust="spacingAndGlyphs">104</text><text class="nm" x="79.5 160 240" y="10">bye</text><text class="af" x="264.5 483" y="10">（）</text></g>
<g id="p105" transform="translate(0 131.8)"><text class="num" x="60" y="10" textLength="40" lengthAdjust="spacingAndGlyphs">105</text><text class="nm" x="86 129.5 190 233" y="10">中林妃那</text><text class="af" x="264.5 300 373.8 447.5 483" y="10">（嬉野中）</text></g>
<g id="p106" transform="translate(0 185.4)"><text class="num" x="60" y="10" textLength="40" lengthAdjust="spacingAndGlyphs">106</text><text class="nm" x="86 114 152 200 233" y="10">竹之内彩子</text><text class="af" x="264.5 300 447.5 483" y="10">（川越）</text></g>
<g id="p107" transform="translate(0 239.1)"><text class="num" x="60" y="10" textLength="40" lengthAdjust="spacingAndGlyphs">107</text><text class="nm" x="86 129.5 172 233" y="10">長谷川舞</text><text class="af" x="264.5 300 349.2 398.3 447.5 483" y="10">（久居農林）</text></g>
<g id="p108" transform="translate(0 292.7)"><text class="num" x="60" y="10" textLength="40" lengthAdjust="spacingAndGlyphs">108</text><text class="nm" x="86 129.5 190 233" y="10">立嶋茜里</text><text class="af" x="264.5 300 447.5 483" y="10">（紀南）</text></g>
<g id="p109" transform="translate(0 346.3)"><text class="num" x="60" y="10" textLength="40" lengthAdjust="spacingAndGlyphs">109</text><text class="nm" x="86 115 169 201 233" y="10">山本つぐみ</text><text class="af" x="264.5 300 349.2 398.3 447.5 483" y="10">（松阪商業）</text></g>
<g id="p110" transform="translate(0 400)"><text class="num" x="60" y="10" textLength="40" lengthAdjust="spacingAndGlyphs">110</text><text class="nm" x="86 129.5 190 233" y="10">加納佑紀</text><text class="af" x="264.5 300 447.5 483" y="10">（松阪）</text></g>
<g id="p111" transform="translate(0 453.6)"><rect class="hb" x="66" y="-26.8" width="187" height="53.6"/><text class="num" x="60" y="10" textLength="40" lengthAdjust="spacingAndGlyphs">111</text><text class="nm" x="86 129.5 190 233" y="10">中村彩乃</text><text class="af" x="264.5 300 447.5 483" y="10">（桑名）</text></g>
<g id="p112" transform="translate(0 507.3)"><rect class="hb" x="66" y="-26.8" width="187" height="53.6"/><text class="num" x="60" y="10" textLength="40" lengthAdjust="spacingAndGlyphs">112</text><text class="nm" x="86 129.5 190 233" y="10">水谷実希</text><text class="af" x="264.5 300 336.9 373.8 410.6 447.5 483" y="10">（いなべ総合）</text></g>
<g id="p113" transform="translate(0 560.9)"><text class="num" x="60" y="10" textLength="40" lengthAdjust="spacingAndGlyphs">113</text><text class="nm" x="86 129.5 190 233" y="10">中田菊花</text><text class="af" x="264.5 300 336.9 373.8 410.6 447.5 483" y="10">（四日市農芸）</text></g>
<g id="p114" transform="translate(0 614.5)"><text class="num" x="60" y="10" textLength="40" lengthAdjust="spacingAndGlyphs">114</text><text class="nm" x="86 149.5 233" y="10">影山舞</text><text class="af" x="264.5 300 373.8 447.5 483" y="10">（桑名北）</text></g>
<g id="p115" transform="translate(0 668.2)"><text class="num" x="60" y="10" textLength="40" lengthAdjust="spacingAndGlyphs">115</text><text class="nm" x="86 129.5 190 233" y="10">土性桃歌</text><text class="af" x="264.5 300 447.5 483" y="10">（津西）</text></g>
<g id="p116" transform="translate(0 721.8)"><text class="num" x="60" y="10" textLength="40" lengthAdjust="spacingAndGlyphs">116</text><text class="nm" x="86 129.5 190 233" y="10">山際茉子</text><text class="af" x="264.5 300 447.5 483" y="10">（明野）</text></g>
<g id="p117" transform="translate(0 775.5)"><text class="num" x="60" y="10" textLength="40" lengthAdjust="spacingAndGlyphs">117</text><text class="nm" x="86 115 169 201 233" y="10">中野永理奈</text><text class="af" x="264.5 300 373.8 447.5 483" y="10">（桑名西）</text></g>
<g id="p118" transform="translate(0 829.1)"><text class="num" x="60" y="10" textLength="40" lengthAdjust="spacingAndGlyphs">118</text><text class="nm" x="86 149.5 233" y="10">丹生楓</text><text class="af" x="264.5 300 447.5 483" y="10">（神戸）</text><path class="st" d="M11 -2.2H487M11 2.2H487"/></g>
<g id="p119" transform="translate(0 882.7)"><rect class="hy" x="66" y="-26.8" width="187" height="53.6"/><text class="num" x="60" y="10" textLength="40" lengthAdjust="spacingAndGlyphs">119</text><text class="nm" x="86 117 174 205 233" y="10">伊藤さくら</text><text class="af" x="264.5 300 336.9 373.8 410.6 447.5 483" y="10">（四日市商業）</text></g>
<g id="p120" transform="translate(0 936.4)"><rect class="hb" x="66" y="-26.8" width="187" height="53.6"/><text class="num" x="60" y="10" textLength="40" lengthAdjust="spacingAndGlyphs">120</text><text class="nm" x="86 149.5 233" y="10">石田明</text><text class="af" x="264.5 300 336.9 373.8 410.6 447.5 483" y="10">（四日市商業）</text></g>
<g id="p121" transform="translate(0 990)"><text class="num" x="60" y="10" textLength="40" lengthAdjust="spacingAndGlyphs">121</text><text class="nm" x="86 115 169 201 233" y="10">宮田なつみ</text><text class="af" x="264.5 300 447.5 483" y="10">（相可）</text></g>
<g id="p122" transform="translate(0 1043.7)"><text class="num" x="60" y="10" textLength="40" lengthAdjust="spacingAndGlyphs">122</text><text class="nm" x="86 129.5 190 233" y="10">山村優衣</text><text class="af" x="264.5 300 447.5 483" y="10">（松阪）</text></g>
<g id="p123" transform="translate(0 1097.3)"><text class="num" x="60" y="10" textLength="40" lengthAdjust="spacingAndGlyphs">123</text><text class="nm" x="86 129.5 190 233" y="10">吉川綾美</text><text class="af" x="264.5 300 349.2 398.3 447.5 483" y="10">（四日市南）</text></g>
<g id="p124" transform="translate(0 1150.9)"><text class="num" x="60" y="10" textLength="40" lengthAdjust="spacingAndGlyphs">124</text><text class="nm" x="86 115 169 201 233" y="10">市瀬まどか</text><text class="af" x="264.5 300 447.5 483" y="10">（津西）</text></g>
<g id="p125" transform="translate(0 1204.6)"><text class="num" x="60" y="10" textLength="40" lengthAdjust="spacingAndGlyphs">125</text><text class="nm" x="86 129.5 190 233" y="10">倉田佳澄</text><text class="af" x="264.5 300 447.5 483" y="10">（川越）</text></g>
<g id="p126" transform="translate(0 1258.2)"><text class="num" x="60" y="10" textLength="40" lengthAdjust="spacingAndGlyphs">126</text><text class="nm" x="86 129.5 190 233" y="10">荒木柚葉</text><text class="af" x="264.5 300 447.5 483" y="10">（津東）</text></g>
<g id="p127" transform="translate(0 1311.9)"><rect class="hy" x="66" y="-26.8" width="187" height="53.6"/><text class="num" x="60" y="10" textLength="40" lengthAdjust="spacingAndGlyphs">127</text><text class="nm" x="86 129.5 190 233" y="10">瀬古愛里</text><text class="af" x="264.5 300 373.8 447.5 483" y="10">（嬉野中）</text></g>
<g id="p128" transform="translate(0 1365.5)"><rect class="hb" x="66" y="-26.8" width="187" height="53.6"/><text class="num" x="60" y="10" textLength="40" lengthAdjust="spacingAndGlyphs">128</text><text class="nm" x="86 115 169 201 233" y="10">前田奈津子</text><text class="af" x="264.5 300 447.5 483" y="10">（白子）</text></g>
<g id="p129" transform="translate(0 1419.1)"><text class="num" x="60" y="10" textLength="40" lengthAdjust="spacingAndGlyphs">129</text><text class="nm" x="86 115 169 201 233" y="10">村木沙耶茄</text><text class="af" x="264.5 300 447.5 483" y="10">（神戸）</text></g>
<g id="p130" transform="translate(0 1472.8)"><text class="num" x="60" y="10" textLength="40" lengthAdjust="spacingAndGlyphs">130</text><text class="nm" x="86 129.5 190 233" y="10">奥谷未来</text><text class="af" x="264.5 300 349.2 398.3 447.5 483" y="10">（松阪商業）</text></g>
<g id="p131" transform="translate(0 1526.4)"><text class="num" x="60" y="10" textLength="40" lengthAdjust="spacingAndGlyphs">131</text><text class="nm" x="86 129.5 190 233" y="10">山中香奈</text><text class="af" x="264.5 300 336.9 373.8 410.6 447.5 483" y="10">（四日市商業）</text></g>
<g id="p132" transform="translate(0 1580.1)"><text class="num" x="60" y="10" textLength="40" lengthAdjust="spacingAndGlyphs">132</text><text class="nm" x="86 129.5 190 233" y="10">池川彩佳</text><text class="af" x="264.5 300 336.9 373.8 410.6 447.5 483" y="10">（四日市農芸）</text></g>
<g id="p133" transform="translate(0 1633.7)"><text class="num" x="60" y="10" textLength="40" lengthAdjust="spacingAndGlyphs">133</text><text class="nm" x="86 135 184 233" y="10">天白綾音</text><text class="af" x="264.5 300 373.8 447.5 483" y="10">（皇學館）</text></g>
<g id="p134" transform="translate(0 1687.3)"><text class="num" x="60" y="10" textLength="40" lengthAdjust="spacingAndGlyphs">134</text><text class="nm" x="86 129.5 190 233" y="10">伊藤充希</text><text class="af" x="264.5 300 373.8 447.5 483" y="10">（桑名西）</text></g>
<g id="p135" transform="translate(0 1741)"><text class="num" x="60" y="10" textLength="40" lengthAdjust="spacingAndGlyphs">135</text><text class="nm" x="79.5 160 240" y="10">bye</text><text class="af" x="264.5 483" y="10">（）</text></g>
<g id="p136" transform="translate(0 1794.6)"><rect class="hy" x="66" y="-26.8" width="187" height="53.6"/><text class="num" x="60" y="10" textLength="40" lengthAdjust="spacingAndGlyphs">136</text><text class="nm" x="86 129.5 190 233" y="10">田中真優</text><text class="af" x="264.5 300 447.5 483" y="10">（高田）</text></g>
</g>
</svg>
